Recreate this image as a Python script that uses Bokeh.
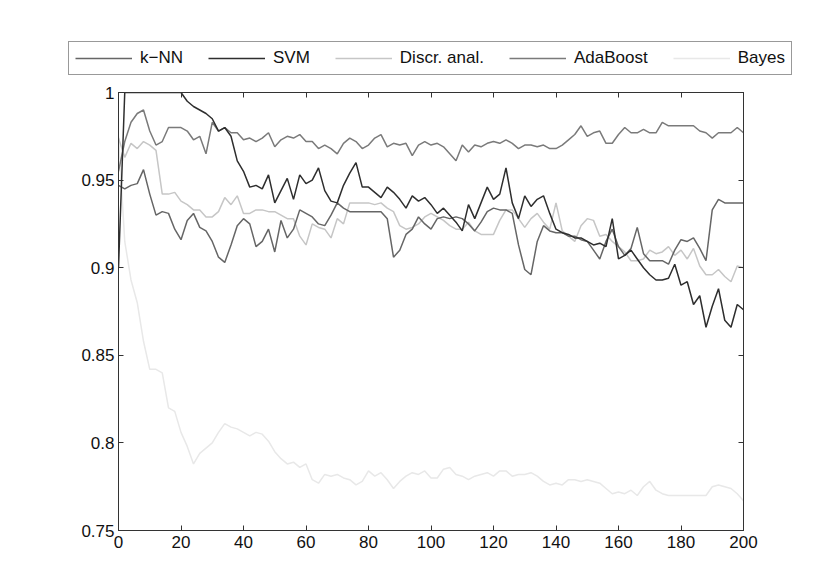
from bokeh.plotting import figure
from bokeh.models import LinearAxis, FixedTicker, Legend, LegendItem, Range1d
from bokeh.embed import file_html
from bokeh.resources import INLINE

iterations = list(range(0, 201, 2))

knn = [0.947, 0.945, 0.947, 0.948, 0.956, 0.942, 0.930, 0.932, 0.931, 0.922,
       0.916, 0.927, 0.931, 0.923, 0.921, 0.915, 0.906, 0.903, 0.913, 0.924,
       0.928, 0.925, 0.912, 0.915, 0.922, 0.909, 0.927, 0.917, 0.922, 0.933,
       0.931, 0.929, 0.925, 0.924, 0.930, 0.937, 0.934, 0.932, 0.932, 0.932,
       0.932, 0.932, 0.932, 0.928, 0.906, 0.910, 0.919, 0.922, 0.929, 0.925,
       0.922, 0.928, 0.929, 0.928, 0.929, 0.928, 0.925, 0.921, 0.926, 0.932,
       0.934, 0.933, 0.933, 0.931, 0.913, 0.899, 0.896, 0.915, 0.924, 0.921,
       0.920, 0.920, 0.918, 0.918, 0.916, 0.915, 0.910, 0.905, 0.915, 0.922,
       0.912, 0.907, 0.911, 0.923, 0.908, 0.904, 0.904, 0.904, 0.902, 0.910,
       0.916, 0.915, 0.917, 0.911, 0.904, 0.933, 0.939, 0.937, 0.937, 0.937,
       0.937]

svm = [0.900, 1.000, 1.000, 1.000, 1.000, 1.000, 1.000, 1.000, 1.000, 1.000,
       1.000, 0.995, 0.992, 0.990, 0.988, 0.985, 0.978, 0.980, 0.975, 0.961,
       0.955, 0.946, 0.947, 0.945, 0.953, 0.937, 0.944, 0.951, 0.939, 0.953,
       0.948, 0.950, 0.957, 0.944, 0.938, 0.937, 0.947, 0.954, 0.960, 0.946,
       0.946, 0.943, 0.940, 0.946, 0.943, 0.939, 0.934, 0.941, 0.938, 0.940,
       0.936, 0.931, 0.934, 0.930, 0.926, 0.921, 0.936, 0.928, 0.937, 0.946,
       0.939, 0.942, 0.957, 0.937, 0.928, 0.941, 0.935, 0.939, 0.941, 0.931,
       0.922, 0.920, 0.919, 0.917, 0.917, 0.915, 0.913, 0.914, 0.912, 0.928,
       0.905, 0.907, 0.910, 0.905, 0.900, 0.896, 0.893, 0.893, 0.894, 0.902,
       0.890, 0.892, 0.879, 0.884, 0.866, 0.878, 0.888, 0.870, 0.866, 0.879,
       0.876]

discr = [0.974, 0.963, 0.971, 0.968, 0.972, 0.970, 0.967, 0.942, 0.942, 0.943,
         0.938, 0.936, 0.933, 0.933, 0.929, 0.929, 0.932, 0.940, 0.936, 0.941,
         0.931, 0.931, 0.933, 0.933, 0.932, 0.932, 0.930, 0.928, 0.928, 0.918,
         0.913, 0.925, 0.923, 0.922, 0.917, 0.928, 0.925, 0.937, 0.937, 0.937,
         0.937, 0.936, 0.937, 0.934, 0.932, 0.924, 0.922, 0.923, 0.925, 0.929,
         0.931, 0.929, 0.927, 0.924, 0.922, 0.922, 0.926, 0.921, 0.919, 0.919,
         0.919, 0.927, 0.933, 0.933, 0.928, 0.923, 0.928, 0.931, 0.926, 0.922,
         0.937, 0.921, 0.918, 0.915, 0.924, 0.928, 0.927, 0.918, 0.919, 0.915,
         0.912, 0.909, 0.904, 0.904, 0.905, 0.910, 0.908, 0.909, 0.912, 0.907,
         0.910, 0.905, 0.911, 0.901, 0.896, 0.896, 0.899, 0.895, 0.892, 0.901,
         0.900]

adaboost = [0.955, 0.972, 0.983, 0.988, 0.990, 0.978, 0.970, 0.972, 0.980, 0.980,
            0.980, 0.978, 0.973, 0.975, 0.965, 0.983, 0.978, 0.980, 0.977, 0.977,
            0.973, 0.974, 0.972, 0.974, 0.977, 0.969, 0.973, 0.975, 0.974, 0.976,
            0.972, 0.972, 0.968, 0.970, 0.968, 0.965, 0.971, 0.974, 0.972, 0.968,
            0.970, 0.974, 0.976, 0.969, 0.971, 0.970, 0.971, 0.964, 0.970, 0.972,
            0.970, 0.971, 0.969, 0.965, 0.961, 0.970, 0.966, 0.970, 0.969, 0.971,
            0.972, 0.971, 0.973, 0.971, 0.968, 0.970, 0.970, 0.969, 0.970, 0.968,
            0.968, 0.970, 0.973, 0.976, 0.981, 0.975, 0.977, 0.978, 0.971, 0.971,
            0.976, 0.980, 0.977, 0.977, 0.979, 0.977, 0.977, 0.983, 0.981, 0.981,
            0.981, 0.981, 0.981, 0.978, 0.977, 0.974, 0.977, 0.977, 0.977, 0.980,
            0.977]

bayes = [0.975, 0.915, 0.893, 0.880, 0.858, 0.842, 0.842, 0.840, 0.820, 0.818,
         0.806, 0.798, 0.788, 0.794, 0.797, 0.800, 0.806, 0.811, 0.809, 0.808,
         0.806, 0.804, 0.806, 0.805, 0.801, 0.795, 0.791, 0.788, 0.789, 0.786,
         0.788, 0.779, 0.777, 0.782, 0.781, 0.782, 0.780, 0.779, 0.776, 0.778,
         0.784, 0.781, 0.783, 0.779, 0.774, 0.778, 0.781, 0.783, 0.782, 0.784,
         0.780, 0.780, 0.785, 0.786, 0.782, 0.781, 0.779, 0.781, 0.782, 0.783,
         0.781, 0.784, 0.784, 0.781, 0.782, 0.782, 0.783, 0.781, 0.778, 0.776,
         0.777, 0.776, 0.779, 0.779, 0.778, 0.779, 0.778, 0.777, 0.774, 0.771,
         0.772, 0.771, 0.773, 0.770, 0.775, 0.778, 0.773, 0.771, 0.770, 0.770,
         0.770, 0.770, 0.770, 0.770, 0.770, 0.775, 0.776, 0.775, 0.774, 0.771,
         0.767]

series_names = ["k\u2212NN", "SVM", "Discr. anal.", "AdaBoost", "Bayes"]
series_values = [knn, svm, discr, adaboost, bayes]
series_colors = ["#666666", "#2e2e2e", "#c6c6c6", "#7a7a7a", "#e8e8e8"]
draw_order = [4, 2, 3, 0, 1]

x_ticks = [0, 20, 40, 60, 80, 100, 120, 140, 160, 180, 200]
y_ticks = [0.75, 0.8, 0.85, 0.9, 0.95, 1.0]
y_tick_labels = ["0.75", "0.8", "0.85", "0.9", "0.95", "1"]

FONT = "Liberation Sans"
FS = "17px"
AX = "#333333"
LEG_H = 84

# ---- main axes ----
p = figure(width=814, height=563 - LEG_H, output_backend="svg", toolbar_location=None,
           x_range=Range1d(0, 200), y_range=Range1d(0.75, 1.0),
           min_border_left=118, min_border_right=71, min_border_top=92 - LEG_H,
           min_border_bottom=33,
           background_fill_color="white", border_fill_color="white")
p.grid.visible = False
p.outline_line_color = AX
p.outline_line_width = 1

def style_axis(ax, show_labels=True):
    ax.major_tick_in = 5
    ax.major_tick_out = 0
    ax.minor_tick_line_color = None
    ax.axis_line_color = AX
    ax.major_tick_line_color = AX
    ax.major_label_text_font = FONT
    ax.major_label_text_font_size = FS if show_labels else "1px"
    ax.major_label_text_color = "#111111" if show_labels else None
    ax.major_label_standoff = 4 if show_labels else 0

p.xaxis.ticker = FixedTicker(ticks=x_ticks)
p.yaxis.ticker = FixedTicker(ticks=y_ticks)
p.yaxis.major_label_overrides = {t: l for t, l in zip(y_ticks, y_tick_labels)}
style_axis(p.xaxis[0])
style_axis(p.yaxis[0])
p.xaxis.major_label_standoff = 5

top_ax = LinearAxis(ticker=FixedTicker(ticks=x_ticks))
style_axis(top_ax, False)
p.add_layout(top_ax, "above")
right_ax = LinearAxis(ticker=FixedTicker(ticks=y_ticks))
style_axis(right_ax, False)
p.add_layout(right_ax, "right")

for i in draw_order:
    p.line(iterations, series_values[i], line_color=series_colors[i], line_width=1.5)

# ---- legend strip (same series, drawn outside its visible range) ----
lf = figure(width=814, height=LEG_H, output_backend="svg", toolbar_location=None,
            x_range=Range1d(0, 200), y_range=Range1d(5, 6),
            x_axis_type=None, y_axis_type=None,
            min_border_left=0, min_border_right=0, min_border_top=0, min_border_bottom=0,
            background_fill_color="white", border_fill_color="white")
lf.grid.visible = False
lf.outline_line_color = None
leg_renderers = [lf.line(iterations, series_values[i], line_color=series_colors[i], line_width=1.5)
                 for i in range(5)]

legend = Legend(items=[LegendItem(label=n, renderers=[r]) for n, r in zip(series_names, leg_renderers)],
                orientation="horizontal", location=(68, LEG_H - 75),
                glyph_width=57, glyph_height=18, label_standoff=8, spacing=25,
                padding=6, margin=0,
                label_text_font=FONT, label_text_font_size=FS, label_text_color="#111111",
                label_height=18,
                border_line_color=AX, border_line_width=1,
                background_fill_color="white", background_fill_alpha=1.0)
lf.add_layout(legend, "center")

open("out.html", "w").write(file_html([lf, p], INLINE))
